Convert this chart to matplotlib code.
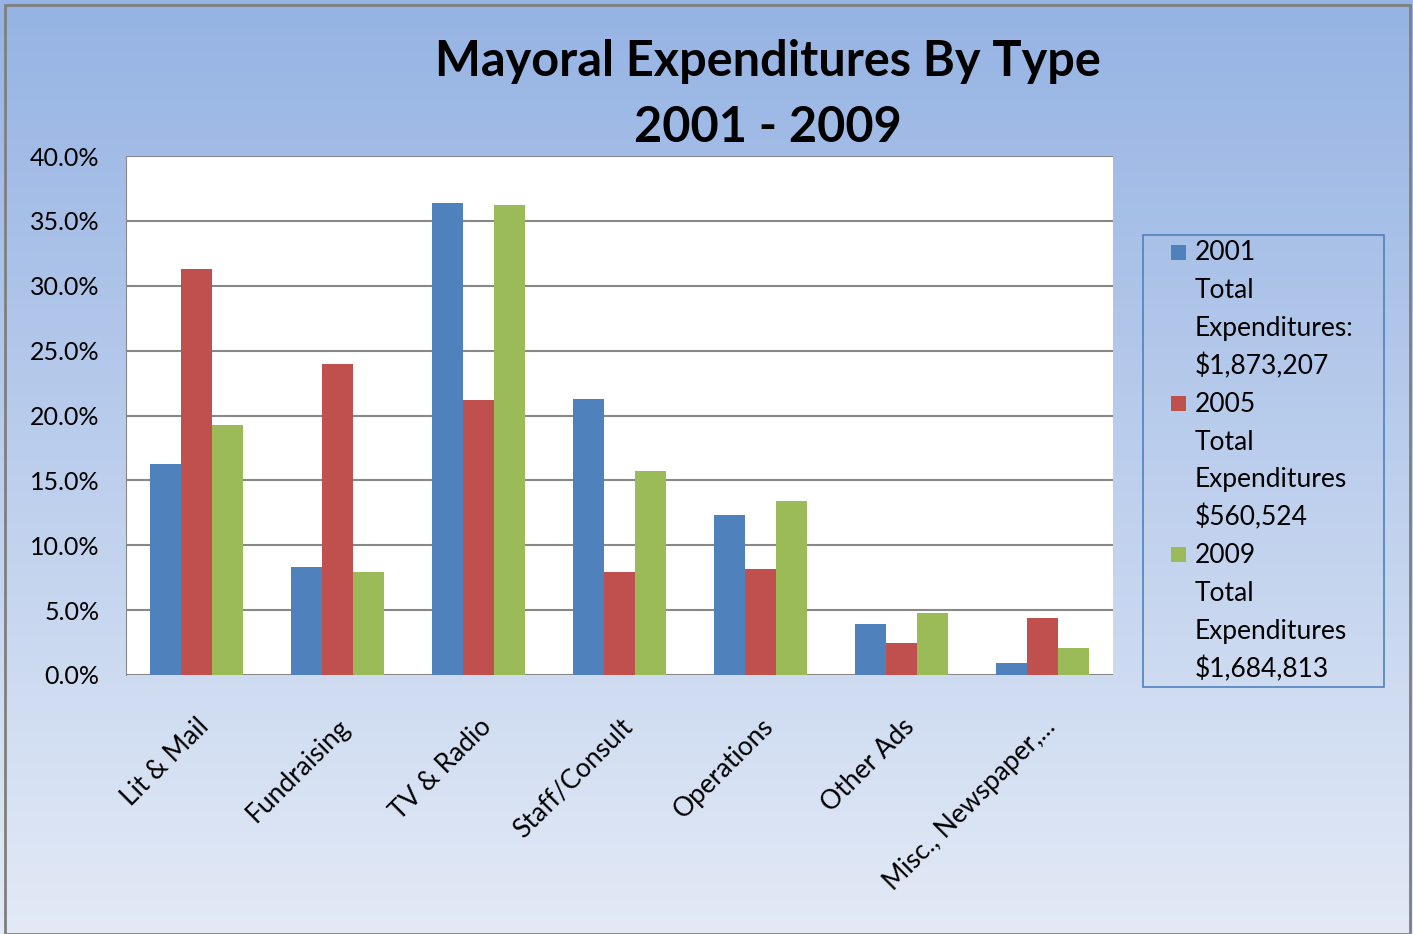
import numpy as np
import matplotlib.pyplot as plt
from matplotlib.patches import Rectangle
from matplotlib.ticker import FuncFormatter

# data (share of total spending, %)
categories = ["Lit & Mail", "Fundraising", "TV & Radio", "Staff/Consult",
              "Operations", "Other Ads", "Misc., Newspaper,..."]
y2001 = [16.3, 8.3, 36.4, 21.3, 12.3, 3.9, 0.9]
y2005 = [31.3, 24.0, 21.2, 7.9, 8.2, 2.5, 4.4]
y2009 = [19.3, 7.9, 36.2, 15.7, 13.4, 4.8, 2.1]
labels = ["2001\nTotal\nExpenditures:\n$1,873,207",
          "2005\nTotal\nExpenditures\n$560,524",
          "2009\nTotal\nExpenditures\n$1,684,813"]
colors = ["#4F81BD", "#C0504D", "#9BBB59"]

plt.rcParams['font.family'] = ['Lato', 'DejaVu Sans']

W, H = 1413, 934
fig = plt.figure(figsize=(W / 100, H / 100), dpi=100)

# gradient background
bg = fig.add_axes([0, 0, 1, 1], zorder=-10)
top = np.array([0x95, 0xB3, 0xE3]) / 255
bot = np.array([0xE3, 0xEA, 0xF6]) / 255
t = np.linspace(0, 1, 256)[:, None]
grad = top[None, :] * (1 - t) + bot[None, :] * t
bg.imshow(grad[:, None, :], aspect='auto', extent=[0, 1, 0, 1])
bg.add_patch(Rectangle((5 / W, 0), (1405 / W), 1 - 5 / H, fill=False,
                       edgecolor='#7F7F7F', linewidth=2, transform=bg.transAxes))
bg.set_xlim(0, 1)
bg.set_ylim(0, 1)
bg.axis('off')

# plot area in pixels: x 126-1113, y 156-675
ax = fig.add_axes([126 / W, 1 - 675 / H, (1113 - 126) / W, (675 - 156) / H])
ax.set_facecolor('white')

x = np.arange(len(categories))
w = 0.222
for i, (vals, c) in enumerate(zip([y2001, y2005, y2009], colors)):
    ax.bar(x + (i - 1) * w, vals, width=w, color=c, zorder=3)

ax.set_xlim(-0.5, len(categories) - 0.5)
ax.set_ylim(0, 40)
ax.set_yticks(np.arange(0, 41, 5))
ax.yaxis.set_major_formatter(FuncFormatter(lambda v, p: f"{v:.1f}%"))
ax.grid(axis='y', color='#888888', linewidth=1.5, zorder=0)
ax.tick_params(axis='y', length=0, labelsize=18, pad=19)
ax.tick_params(axis='x', length=0, labelsize=19, pad=28)
ax.set_xticks(x)
ax.set_xticklabels(categories, rotation=45, ha='right', va='top', rotation_mode='anchor')
for s in ['top', 'right', 'bottom']:
    ax.spines[s].set_visible(False)
ax.spines['left'].set_color('#888888')

fig.text(768 / W, 1 - 62 / H, "Mayoral Expenditures By Type", ha='center', va='center',
         fontsize=35, fontweight='bold')
fig.text(768 / W, 1 - 128 / H, "2001 - 2009", ha='center', va='center',
         fontsize=35, fontweight='bold')

# legend box drawn by hand so the lines keep the wide spacing of the original
bg.add_patch(Rectangle((1143 / W, 1 - 687 / H), (1384 - 1143) / W, (687 - 235) / H,
                       fill=False, edgecolor='#4F81BD', linewidth=1.2,
                       transform=bg.transAxes))
line_h = 37.8
row = 0
for lab, c in zip(labels, colors):
    for j, part in enumerate(lab.split("\n")):
        yy = 253 + row * line_h
        if j == 0:
            bg.add_patch(Rectangle((1171 / W, 1 - (yy + 7) / H), 15 / W, 15 / H,
                                   facecolor=c, edgecolor='none',
                                   transform=bg.transAxes))
        fig.text(1195 / W, 1 - yy / H, part, ha='left', va='center', fontsize=19)
        row += 1

fig.savefig("out.png", dpi=100)
